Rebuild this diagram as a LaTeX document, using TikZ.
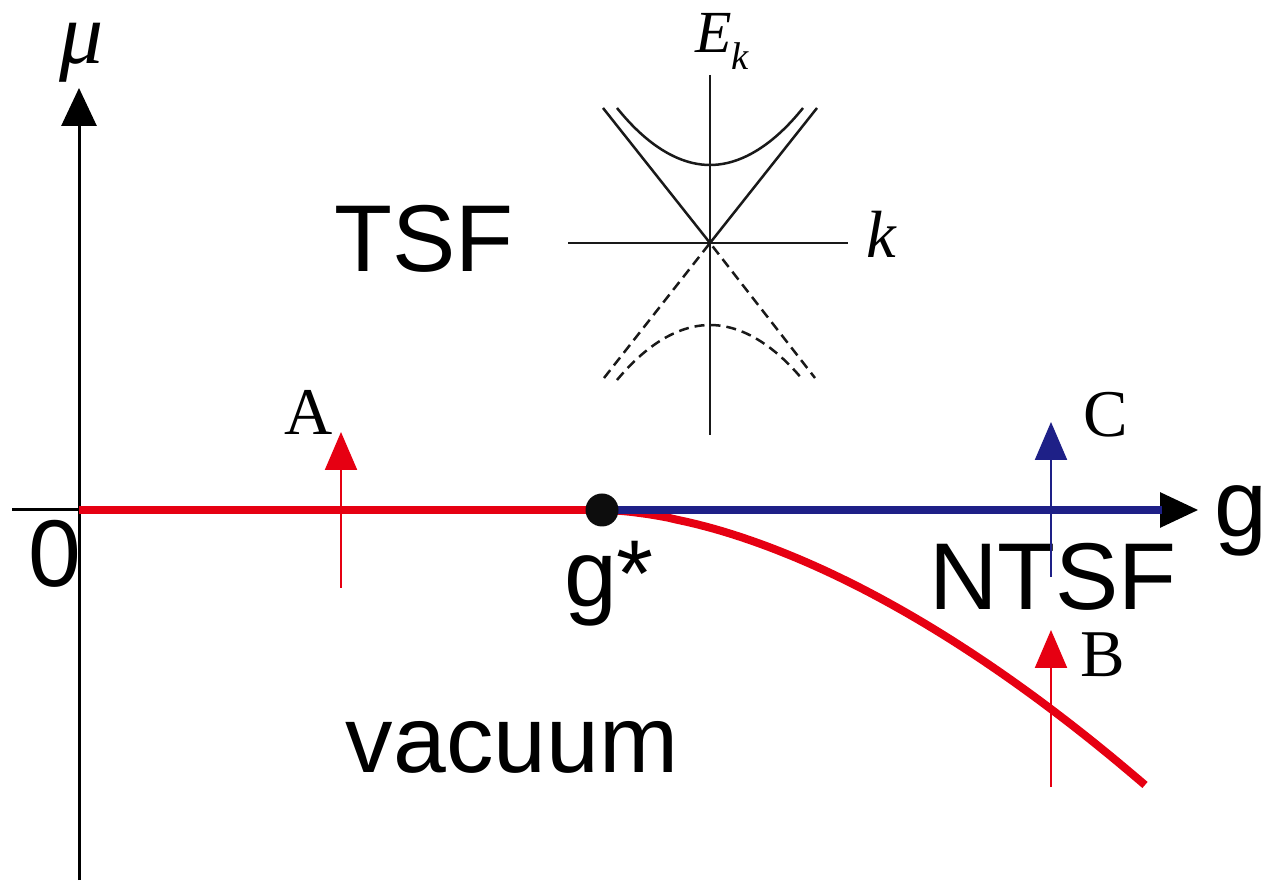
\documentclass[tikz,border=0pt]{standalone}
\usepackage{fontspec}
\setmainfont{Liberation Serif}
\setsansfont{Liberation Sans}
\usetikzlibrary{arrows.meta}
\definecolor{phred}{RGB}{230,0,18}
\definecolor{phblue}{RGB}{30,32,135}

\begin{document}
\begin{tikzpicture}[x=0.1mm, y=-0.1mm, >={Triangle[length=3.8mm, width=3.5mm]},
  axis/.style={line width=0.3mm, black},
  band/.style={line width=0.25mm, black!90},
  dashband/.style={band, dash pattern=on 1mm off 0.6mm},
  redline/.style={line width=0.8mm, phred},
  blueline/.style={line width=0.8mm, phblue},
  sweep/.style={line width=0.22mm, >={Triangle[length=3.8mm, width=3.2mm]}, ->},
  phase/.style={font=\sffamily\fontsize{27}{31}\selectfont, inner sep=0pt, anchor=base},
  pathlabel/.style={font=\fontsize{19}{22}\selectfont, inner sep=0pt, anchor=base},
  varlabel/.style={font=\itshape\fontsize{19}{22}\selectfont, inner sep=0pt, anchor=base}]
\useasboundingbox (0,0) rectangle (1269,892);

% phase diagram axes
\coordinate (mubot) at (79,880);
\coordinate (mutop) at (79,88);
\coordinate (gleft) at (12,510);
\coordinate (origin) at (79,510);
\coordinate (gstar) at (602,510);
\coordinate (gend) at (1162,510);
\coordinate (gtip) at (1198,510);
\draw[axis, ->] (mubot) -- (mutop);
\draw[axis, ->] (gleft) -- (gtip);
\draw[redline] (origin) -- (gstar);
\draw[redline] (gstar) -- plot[domain=2:543, samples=60] ({602+\x},{510+275*pow(\x/543,1.7)});
\draw[blueline] (gstar) -- (gend);
\node[circle, fill=black!95, minimum size=3.3mm, inner sep=0pt] (gdot) at (gstar) {};

\node[font=\itshape\fontsize{25}{29}\selectfont, inner sep=0pt, anchor=base] (mulabel) at (82,64) {μ};
\node[phase] (zero) at (55,587) {0};
\node[phase] (gslabel) at (609,607) {g*};
\node[phase, anchor=base west] (glabel) at (1214,537) {g};
\node[phase] (tsf) at (424,272) {TSF};
\node[phase] (ntsf) at (1053,610) {NTSF};
\node[phase] (vac) at (512,773) {vacuum};

% sweeps across the transition
\coordinate (Afrom) at (341,588);
\coordinate (Ato) at (341,432);
\coordinate (Bfrom) at (1051,787);
\coordinate (Bto) at (1051,630);
\coordinate (Cfrom) at (1051,577);
\coordinate (Cto) at (1051,422);
\draw[sweep, phred] (Afrom) -- (Ato);
\draw[sweep, phred] (Bfrom) -- (Bto);
\draw[sweep, phblue] (Cfrom) -- (Cto);
\node[pathlabel] (Alabel) at (309,435) {A};
\node[pathlabel] (Blabel) at (1103,676) {B};
\node[pathlabel] (Clabel) at (1106,437) {C};

% inset: spectrum E_k
\coordinate (eo) at (710,243);
\coordinate (etop) at (710,75);
\coordinate (ebot) at (710,435);
\coordinate (kleft) at (568,243);
\coordinate (kright) at (848,243);
\draw[band] (etop) -- (ebot);
\draw[band] (kleft) -- (kright);
\draw[band] (603,108) -- (eo) -- (817,108);
\draw[dashband] (604,378) -- (eo) -- (815,378);
\draw[band] (617,108) parabola bend (710,165) (803,108);
\draw[dashband] (617,380) parabola bend (710,325) (803,380);
\node[font=\itshape\fontsize{17}{20}\selectfont, inner sep=0pt, anchor=base] (Elabel) at (722,53) {E\raisebox{-1.7mm}{\fontsize{11}{12}\selectfont k}};
\node[varlabel] (klabel) at (881,258) {k};
\end{tikzpicture}
\end{document}
